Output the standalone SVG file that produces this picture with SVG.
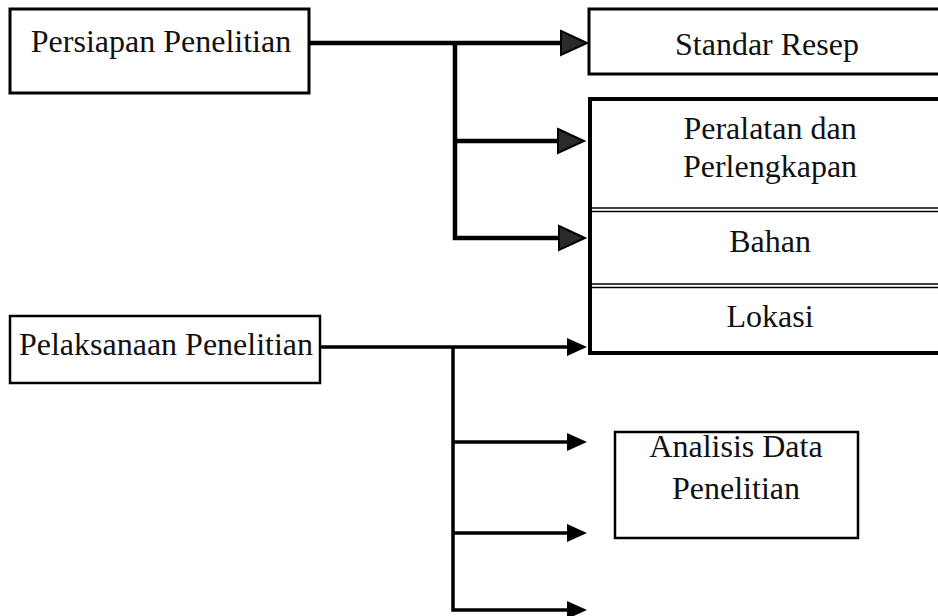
<svg xmlns="http://www.w3.org/2000/svg" width="938" height="616" viewBox="0 0 938 616">
<style>
.box{fill:#fff;stroke:#000}
.t{font-family:"Liberation Serif","Times New Roman",serif;font-size:32px;fill:#111;text-anchor:middle}
.c1{fill:none;stroke:#000;stroke-width:4.5}
.c2{fill:none;stroke:#000;stroke-width:3.5}
.dl{stroke:#000;stroke-width:1.6}
</style>
<defs>
<marker id="ah1" markerUnits="userSpaceOnUse" markerWidth="30" markerHeight="30" refX="1" refY="12" orient="auto" overflow="visible">
<path d="M0,0 L26,12 L0,24 Z" fill="#2a2a2a" stroke="#000" stroke-width="2" stroke-linejoin="miter"/>
</marker>
<marker id="ah2" markerUnits="userSpaceOnUse" markerWidth="30" markerHeight="30" refX="0" refY="9" orient="auto" overflow="visible">
<path d="M0,0 L20,9 L0,18 Z" fill="#000"/>
</marker>
</defs>
<rect width="938" height="616" fill="#fff"/>

<g id="connectors">
<path class="c1" d="M310,43 H562" marker-end="url(#ah1)"/>
<path class="c1" d="M455,43 V238 H560" />
<path class="c1" d="M455,141 H559" marker-end="url(#ah1)"/>
<path class="c1" d="M559,238 H560" marker-end="url(#ah1)"/>
<path class="c2" d="M320,347 H567" marker-end="url(#ah2)"/>
<path class="c2" d="M453,347 V610 H567" marker-end="url(#ah2)"/>
<path class="c2" d="M453,442 H567" marker-end="url(#ah2)"/>
<path class="c2" d="M453,533 H567" marker-end="url(#ah2)"/>
</g>

<g id="persiapan">
<rect class="box" x="10" y="9" width="299" height="84" stroke-width="3"/>
<text class="t" x="161" y="52">Persiapan Penelitian</text>
</g>

<g id="standar-resep">
<rect class="box" x="589" y="9" width="370" height="65" stroke-width="3"/>
<text class="t" x="767" y="55">Standar Resep</text>
</g>

<g id="sub-box">
<rect class="box" x="590" y="99" width="370" height="254" stroke-width="4"/>
<line class="dl" x1="592" y1="208" x2="938" y2="208"/>
<line class="dl" x1="592" y1="211.5" x2="938" y2="211.5"/>
<line class="dl" x1="592" y1="284" x2="938" y2="284"/>
<line class="dl" x1="592" y1="287.5" x2="938" y2="287.5"/>
</g>
<g id="peralatan">
<text class="t" x="770" y="139">Peralatan dan</text>
<text class="t" x="770" y="177">Perlengkapan</text>
</g>
<g id="bahan">
<text class="t" x="770" y="252">Bahan</text>
</g>
<g id="lokasi">
<text class="t" x="770" y="327">Lokasi</text>
</g>

<g id="pelaksanaan">
<rect class="box" x="10" y="316" width="310" height="67" stroke-width="2.5"/>
<text class="t" x="166" y="355">Pelaksanaan Penelitian</text>
</g>

<g id="analisis">
<rect class="box" x="615" y="432" width="243" height="106" stroke-width="2.5"/>
<text class="t" x="736" y="457">Analisis Data</text>
<text class="t" x="736" y="499">Penelitian</text>
</g>
</svg>
